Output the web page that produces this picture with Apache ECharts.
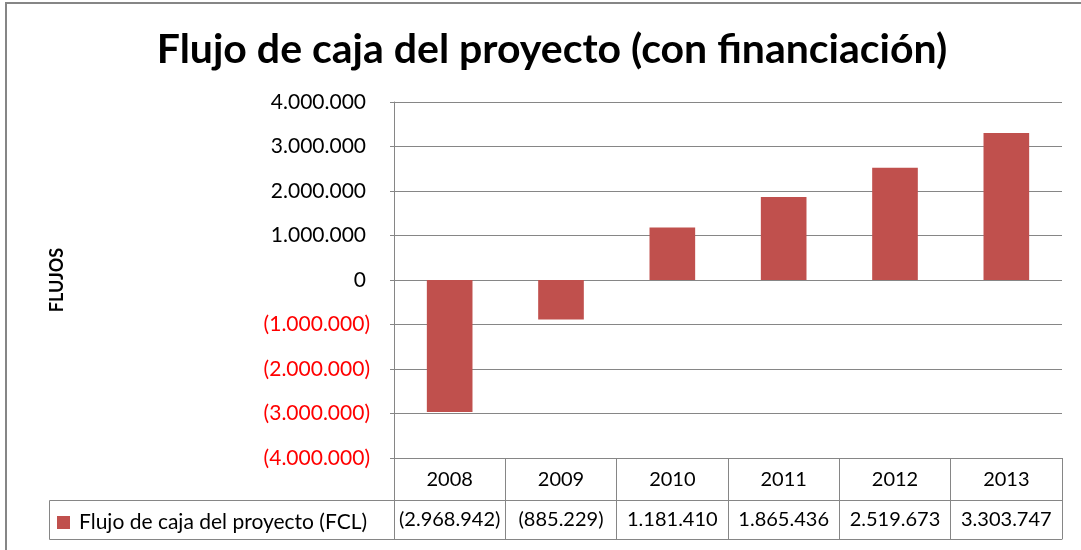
<!DOCTYPE html>
<html>
<head>
<meta charset="utf-8">
<script src="https://cdn.jsdelivr.net/npm/echarts@6/dist/echarts.min.js"></script>
<style>
html, body { margin: 0; padding: 0; background: #fff; }
#main { width: 1081px; height: 550px; }
</style>
</head>
<body>
<div id="main"></div>
<script>
var years = ['2008', '2009', '2010', '2011', '2012', '2013'];
var flujos = [-2968942, -885229, 1181410, 1865436, 2519673, 3303747];
var serieName = 'Flujo de caja del proyecto (FCL)';

var gris = '#868686';
var rojo = '#C0504D';
var fuente = 'Lato, "Open Sans", sans-serif';

// 1234567 -> 1.234.567, negativos entre parentesis
function fmt(v) {
  var s = Math.abs(v).toString().replace(/\B(?=(\d{3})+(?!\d))/g, '.');
  return v < 0 ? '(' + s + ')' : s;
}

var chartDom = document.getElementById('main');
var myChart = echarts.init(chartDom);
var option;

option = {
  animation: false,
  textStyle: { fontFamily: fuente },
  title: {
    text: 'Flujo de caja del proyecto (con financiación)',
    left: 547,
    textAlign: 'center',
    top: 24,
    textStyle: { fontFamily: fuente, fontSize: 41, fontWeight: 'bold', color: '#000' }
  },
  grid: {
    left: 394,
    right: 19,
    top: 102,
    bottom: 92
  },
  xAxis: [
    {
      type: 'category',
      data: years,
      position: 'bottom',
      axisLine: { onZero: false, lineStyle: { color: gris, width: 1 } },
      axisTick: { show: true, interval: 0, length: 81, lineStyle: { color: gris } },
      axisLabel: { interval: 0, margin: 12, fontSize: 20, color: '#000', fontFamily: fuente }
    },
    {
      type: 'category',
      data: flujos.map(fmt),
      position: 'bottom',
      offset: 42,
      axisLine: { onZero: false, lineStyle: { color: gris, width: 1 } },
      axisTick: { show: false },
      axisLabel: { interval: 0, margin: 10, fontSize: 20, color: '#000', fontFamily: fuente }
    },
    {
      type: 'category',
      data: years,
      position: 'bottom',
      offset: 81,
      axisLine: { onZero: false, lineStyle: { color: gris, width: 1 } },
      axisTick: { show: false },
      axisLabel: { show: false }
    }
  ],
  yAxis: {
    type: 'value',
    min: -4000000,
    max: 4000000,
    interval: 1000000,
    name: 'FLUJOS',
    nameLocation: 'middle',
    nameGap: 328,
    nameTextStyle: { fontSize: 18, fontWeight: 'bold', color: '#000', fontFamily: fuente },
    axisLine: { show: true, lineStyle: { color: gris } },
    axisTick: { show: true, length: 4, lineStyle: { color: gris } },
    splitLine: { lineStyle: { color: gris, width: 1 } },
    axisLabel: {
      margin: 24,
      formatter: function (v) {
        return v < 0 ? '{n|' + fmt(v) + '}' : '{p|' + fmt(v) + '}';
      },
      rich: {
        n: { fontSize: 21, color: '#ff0000', fontFamily: fuente },
        p: { fontSize: 21, color: '#000', fontFamily: fuente, padding: [0, 4, 0, 0] }
      }
    }
  },
  legend: {
    data: [serieName],
    left: 57,
    top: 512,
    padding: 0,
    itemWidth: 13,
    itemHeight: 13,
    itemGap: 8,
    icon: 'rect',
    textStyle: { fontSize: 21, color: '#000', fontFamily: fuente, padding: [0, 0, 0, 4] }
  },
  graphic: [
    {
      type: 'rect',
      shape: { x: 6, y: 3, width: 1200, height: 700 },
      style: { fill: 'none', stroke: gris, lineWidth: 2 },
      silent: true
    },
    {
      type: 'rect',
      shape: { x: 49.5, y: 500.5, width: 345, height: 39 },
      style: { fill: 'none', stroke: gris, lineWidth: 1 },
      silent: true
    }
  ],
  series: [
    {
      name: serieName,
      type: 'bar',
      data: flujos,
      barWidth: '41%',
      itemStyle: { color: rojo }
    }
  ]
};

option && myChart.setOption(option);
</script>
</body>
</html>
